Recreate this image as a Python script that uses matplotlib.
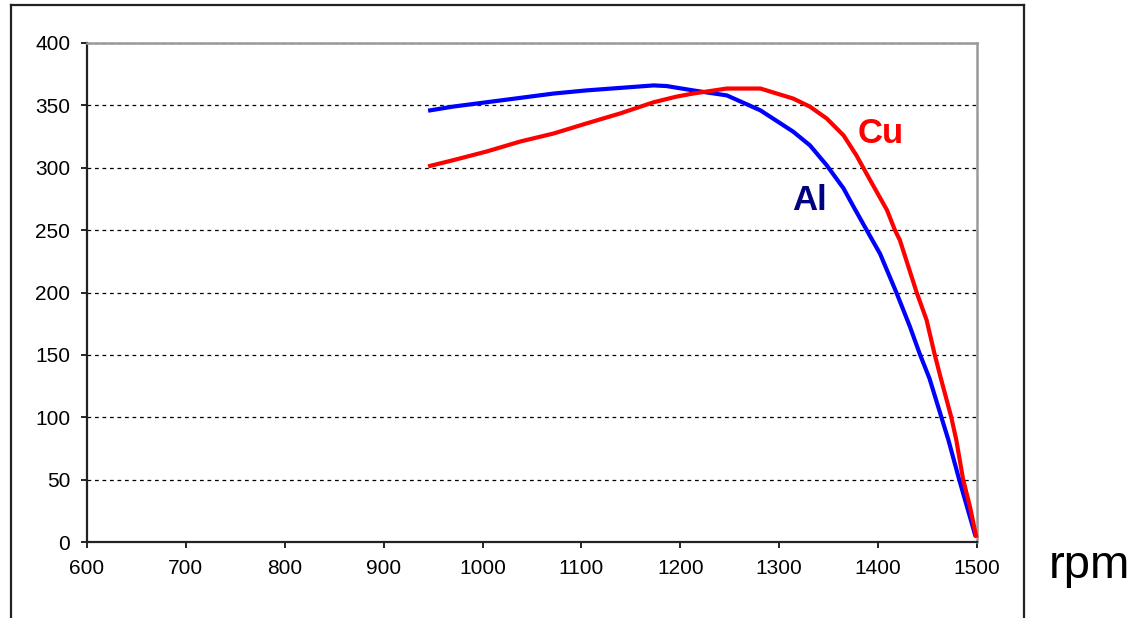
import numpy as np
import matplotlib
matplotlib.use("Agg")
import matplotlib.pyplot as plt
from matplotlib.lines import Line2D

plt.rcParams['font.family'] = ['Liberation Sans', 'DejaVu Sans']

# Al rotor curve (rpm, value)
al_rpm = [947, 970, 1004, 1038, 1072, 1105, 1139, 1173, 1186, 1213, 1247,
          1281, 1314, 1331, 1348, 1365, 1375, 1392, 1402, 1419, 1432, 1442,
          1452, 1464, 1471, 1482, 1490, 1498]
al_val = [346, 349, 352.5, 356, 359.5, 362, 364, 366, 365.5, 362, 358,
          346, 329, 318, 302, 283.5, 269, 245, 231, 199, 173, 151,
          131, 100, 82, 50, 28, 6]

# Cu rotor curve
cu_rpm = [947, 970, 1004, 1038, 1072, 1105, 1139, 1173, 1196, 1213, 1247,
          1281, 1314, 1331, 1348, 1365, 1378, 1392, 1409, 1417, 1422, 1439,
          1449, 1457, 1463, 1474, 1479, 1486, 1493, 1499]
cu_val = [301.5, 306, 313, 321, 327.5, 335.5, 343.5, 352.5, 357, 359.5, 363.5,
          363.5, 355.5, 349, 339.5, 326, 310, 290, 266, 250, 242, 200,
          178, 151, 132.5, 100, 82, 50, 28, 5]

x_ticks = list(range(600, 1501, 100))
y_ticks = list(range(0, 401, 50))

fig = plt.figure(figsize=(11.37, 6.18), dpi=100)
ax = fig.add_axes([87 / 1137, 76 / 618, 890 / 1137, 499 / 618])

ax.plot(al_rpm, al_val, color='#0000FF', linewidth=3, clip_on=False, zorder=3)
ax.plot(cu_rpm, cu_val, color='#FF0000', linewidth=3, clip_on=False, zorder=4)

ax.set_xlim(600, 1500)
ax.set_ylim(0, 400)
ax.set_xticks(x_ticks)
ax.set_yticks(y_ticks)
ax.tick_params(direction='out', length=4, width=1.2, labelsize=15, pad=8, colors='black')

ax.yaxis.grid(True, linestyle=(0, (3, 3)), color='black', linewidth=0.9)
ax.set_axisbelow(True)

for side in ['left', 'bottom']:
    ax.spines[side].set_color('#222222')
    ax.spines[side].set_linewidth(1.6)
for side in ['top', 'right']:
    ax.spines[side].set_color('#999999')
    ax.spines[side].set_linewidth(1.8)

ax.text(1331, 266, 'Al', color='#000080', fontsize=25, fontweight='bold',
        ha='center', va='baseline')
ax.text(1403, 320, 'Cu', color='#FF0000', fontsize=25, fontweight='bold',
        ha='center', va='baseline')

fig.text(1089 / 1137, 40 / 618, 'rpm', fontsize=34, ha='center', va='baseline')

# outer chart frame
W, H = 1137, 618
frame = [([11, 11], [618, 5]), ([11, 1024], [5, 5]), ([1024, 1024], [5, 618])]
for xs, ys in frame:
    fig.add_artist(Line2D([x / W for x in xs], [1 - y / H for y in ys],
                          color='#222222', linewidth=1.6, transform=fig.transFigure))

fig.savefig('out.png', dpi=100)
